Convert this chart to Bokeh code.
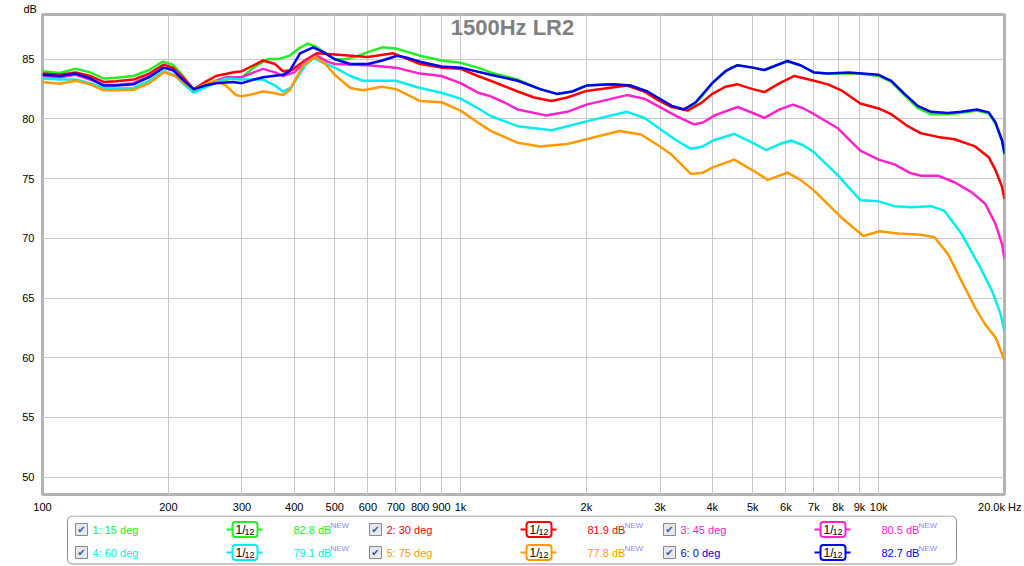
from bokeh.plotting import figure
from bokeh.models import Range1d, FixedTicker, Label, ColumnDataSource
from bokeh.layouts import column
from bokeh.embed import file_html
from bokeh.resources import INLINE
from bokeh.core.properties import value

FONT = "Liberation Sans"

# ---------------- data ----------------
names = ["1: 15 deg", "2: 30 deg", "3: 45 deg", "4: 60 deg", "5: 75 deg", "6: 0 deg"]
levels = ["82.8 dB", "81.9 dB", "80.5 dB", "79.1 dB", "77.8 dB", "82.7 dB"]
colors = ["#22ee22", "#ff0000", "#ff22cc", "#00eeee", "#ff9900", "#0000ee"]

f_green = [100, 110, 120, 130, 140, 150, 165, 180, 194, 205, 218, 230, 245, 260, 285, 300, 320, 345, 370, 390,
           410, 430, 450, 470, 500, 530, 560, 600, 650, 700, 750, 800, 900, 1000, 1100, 1180, 1370, 1550, 1700,
           1850, 2000, 2250, 2550, 2800, 2960, 3200, 3400, 3620, 3800, 4000, 4200, 4430, 4600, 5000, 5330, 5700,
           6050, 6500, 7000, 7560, 8000, 9000, 10000, 10720, 11530, 12400, 13350, 14640, 16000, 17170, 18340,
           19040, 19740, 20000]
db_green = [84.0, 83.85, 84.2, 83.9, 83.4, 83.45, 83.6, 84.1, 84.8, 84.55, 83.5, 82.3, 82.7, 83.1, 83.4, 83.5,
            84.3, 85.0, 85.05, 85.3, 85.9, 86.3, 86.1, 85.6, 85.0, 85.0, 85.2, 85.6, 86.0, 85.9, 85.6, 85.3, 84.9,
            84.7, 84.3, 83.9, 83.3, 82.5, 82.1, 82.3, 82.8, 82.9, 82.8, 82.2, 81.65, 81.1, 80.8, 81.2, 82.0, 83.0,
            83.7, 84.3, 84.5, 84.3, 84.1, 84.5, 84.8, 84.5, 83.9, 83.8, 83.8, 83.8, 83.6, 83.1, 82.0, 80.9, 80.4,
            80.4, 80.55, 80.7, 80.45, 79.6, 78.1, 77.0]

f_red = [100, 110, 120, 130, 140, 150, 165, 180, 195, 205, 218, 230, 245, 260, 285, 300, 320, 337, 360, 376, 395,
         420, 453, 500, 600, 690, 750, 800, 900, 1000, 1100, 1180, 1370, 1500, 1650, 1800, 2000, 2500, 2750, 2960,
         3200, 3490, 3750, 4000, 4300, 4600, 5000, 5330, 5800, 6290, 7010, 7560, 8140, 9040, 10050, 10720, 11740,
         12630, 13850, 15190, 17010, 18340, 19040, 19740, 20000]
db_red = [83.8, 83.7, 83.9, 83.6, 83.1, 83.15, 83.3, 83.8, 84.55, 84.3, 83.4, 82.5, 83.1, 83.6, 83.9, 84.0, 84.5,
          84.9, 84.6, 84.0, 84.1, 84.8, 85.5, 85.4, 85.2, 85.5, 85.0, 84.6, 84.3, 84.2, 83.6, 83.2, 82.3, 81.8,
          81.5, 81.8, 82.35, 82.8, 82.3, 81.6, 81.0, 80.7, 81.3, 82.1, 82.7, 82.9, 82.5, 82.25, 83.0, 83.6, 83.2,
          82.9, 82.4, 81.3, 80.85, 80.4, 79.4, 78.8, 78.5, 78.3, 77.7, 76.8, 75.7, 74.3, 73.3]

f_mag = [100, 110, 120, 130, 140, 150, 165, 180, 195, 208, 218, 230, 250, 275, 300, 320, 337, 360, 376, 400, 425,
         453, 480, 500, 600, 700, 800, 900, 1000, 1100, 1180, 1270, 1370, 1600, 1800, 2000, 2500, 2750, 2960, 3300,
         3620, 3800, 4050, 4600, 5000, 5330, 5800, 6230, 6600, 7010, 8000, 9040, 10000, 10910, 11950, 12630,
         13850, 15190, 16700, 17980, 19040, 19740, 20000]
db_mag = [83.6, 83.5, 83.7, 83.3, 82.85, 82.85, 83.0, 83.6, 84.3, 84.0, 83.2, 82.5, 83.0, 83.5, 83.5, 83.9, 84.2,
          83.9, 83.6, 83.9, 84.8, 85.3, 84.8, 84.6, 84.5, 84.3, 83.8, 83.6, 83.0, 82.2, 81.9, 81.4, 80.8, 80.3,
          80.6, 81.2, 82.0, 81.7, 81.1, 80.2, 79.55, 79.7, 80.3, 81.0, 80.5, 80.1, 80.8, 81.2, 80.9, 80.4, 79.2,
          77.35, 76.6, 76.2, 75.45, 75.25, 75.25, 74.7, 73.85, 72.9, 71.2, 69.5, 68.3]

f_cyan = [100, 110, 120, 130, 140, 150, 165, 180, 195, 208, 218, 230, 250, 275, 300, 337, 360, 376, 392, 406, 425,
          445, 470, 500, 545, 584, 650, 700, 800, 900, 1000, 1100, 1180, 1370, 1650, 2000, 2500, 2750, 2960, 3250,
          3555, 3800, 4013, 4514, 5000, 5380, 5800, 6170, 6600, 7010, 8000, 9040, 10000, 10910, 11950, 13350,
          14370, 15770, 17330, 18670, 19560, 20000]
db_cyan = [83.4, 83.3, 83.3, 83.0, 82.6, 82.55, 82.6, 83.2, 84.0, 83.6, 82.9, 82.2, 82.8, 83.4, 83.3, 83.3, 82.8,
           82.3, 82.6, 83.4, 84.5, 85.1, 84.7, 84.3, 83.6, 83.2, 83.2, 83.2, 82.6, 82.2, 81.7, 80.9, 80.25, 79.4,
           79.05, 79.8, 80.6, 80.1, 79.3, 78.3, 77.5, 77.7, 78.2, 78.75, 78.0, 77.4, 77.9, 78.2, 77.8, 77.2, 75.25,
           73.2, 73.1, 72.7, 72.6, 72.7, 72.3, 70.4, 67.85, 65.6, 63.7, 62.2]

f_orange = [100, 110, 120, 130, 140, 150, 165, 180, 195, 208, 218, 230, 245, 260, 275, 290, 300, 320, 337, 355, 376,
            390, 400, 420, 450, 475, 500, 545, 584, 650, 700, 750, 800, 900, 1000, 1100, 1180, 1370, 1550, 1800,
            2000, 2400, 2700, 3000, 3200, 3555, 3800, 4013, 4514, 5000, 5430, 6053, 6500, 7010, 8140, 9190, 10050,
            11110, 12630, 13600, 14640, 15770, 17010, 17980, 19040, 20000]
db_orange = [83.1, 82.95, 83.2, 82.9, 82.4, 82.4, 82.45, 83.0, 83.9, 83.6, 83.0, 82.5, 82.9, 83.2, 82.8, 82.0,
             81.9, 82.1, 82.3, 82.2, 82.0, 82.4, 83.1, 84.5, 85.2, 84.6, 83.7, 82.6, 82.4, 82.7, 82.5, 82.0, 81.5,
             81.4, 80.7, 79.7, 79.0, 78.0, 77.7, 77.9, 78.3, 79.0, 78.7, 77.7, 77.0, 75.4, 75.5, 75.95, 76.6, 75.7,
             74.9, 75.5, 74.9, 74.0, 71.75, 70.2, 70.6, 70.4, 70.3, 70.1, 68.7, 66.45, 64.2, 62.8, 61.7, 59.8]

f_blue = [100, 110, 120, 130, 140, 150, 165, 180, 195, 205, 218, 230, 245, 260, 285, 300, 320, 337, 376, 390, 413,
          444, 470, 500, 545, 600, 650, 705, 750, 800, 900, 1000, 1180, 1370, 1550, 1700, 1850, 2000, 2300, 2550,
          2800, 2960, 3200, 3430, 3650, 4000, 4300, 4600, 5000, 5330, 5700, 6050, 6500, 7000, 7560, 8470, 10000,
          10720, 11530, 12400, 13350, 14640, 15770, 17170, 18340, 19040, 19740, 20000]
db_blue = [83.7, 83.6, 83.8, 83.4, 82.8, 82.8, 82.9, 83.5, 84.3, 84.1, 83.2, 82.5, 82.8, 83.0, 83.1, 83.0, 83.3,
           83.5, 83.7, 84.0, 85.5, 86.0, 85.6, 85.0, 84.6, 84.6, 84.9, 85.3, 85.1, 84.8, 84.4, 84.3, 83.7, 83.2,
           82.5, 82.1, 82.3, 82.8, 82.9, 82.8, 82.3, 81.8, 81.1, 80.8, 81.4, 83.0, 84.0, 84.5, 84.3, 84.1, 84.5,
           84.86, 84.5, 83.9, 83.8, 83.9, 83.7, 83.2, 82.1, 81.1, 80.6, 80.5, 80.6, 80.8, 80.55, 79.7, 78.2, 77.1]

x_ticks = [100, 200, 300, 400, 500, 600, 700, 800, 900, 1000, 2000, 3000, 4000, 5000, 6000, 7000, 8000, 9000,
           10000, 20000]
x_labels = ["100", "200", "300", "400", "500", "600", "700", "800", "900", "1k", "2k", "3k", "4k", "5k", "6k",
            "7k", "8k", "9k", "10k", "20.0k Hz\u00a0"]
y_ticks = [50, 55, 60, 65, 70, 75, 80, 85]

series = [(f_green, db_green), (f_red, db_red), (f_mag, db_mag),
          (f_cyan, db_cyan), (f_orange, db_orange), (f_blue, db_blue)]

# ---------------- main plot ----------------
p = figure(width=1024, height=515, x_axis_type="log",
           x_range=Range1d(100, 20000), y_range=Range1d(48.55, 88.75),
           output_backend="svg", toolbar_location=None, title="dB",
           min_border_left=42, min_border_right=20, min_border_top=14, min_border_bottom=21,
           background_fill_color="white", border_fill_color="white",
           outline_line_color="#b4b4b4", outline_line_width=3)

p.title.align = "left"
p.title.offset = -19
p.title.standoff = 0
p.title.text_font = FONT
p.title.text_font_size = "11px"
p.title.text_font_style = "normal"
p.title.text_color = "#000000"

p.xaxis.ticker = FixedTicker(ticks=x_ticks, minor_ticks=[])
p.xaxis.major_label_overrides = {t: l for t, l in zip(x_ticks, x_labels)}
p.yaxis.ticker = FixedTicker(ticks=y_ticks, minor_ticks=[])
for ax in p.axis:
    ax.axis_line_color = None
    ax.major_tick_line_color = None
    ax.minor_tick_line_color = None
    ax.major_tick_out = 0
    ax.major_tick_in = 0
    ax.major_label_text_font = FONT
    ax.major_label_text_font_size = "11px"
    ax.major_label_text_color = "#000000"
p.yaxis.major_label_standoff = 8
p.xaxis.major_label_standoff = 6
p.xgrid.grid_line_color = "#c8c8c8"
p.ygrid.grid_line_color = "#c8c8c8"

for (fx, dy), c in zip(series, colors):
    p.line(fx, dy, line_color=c, line_width=2.5, line_join="round")

p.add_layout(Label(x=1331, y=87.66, text="1500Hz LR2", text_font=FONT, text_font_size="22px",
                   text_font_style="bold", text_color="#808080", text_align="center",
                   text_baseline="middle"))

# ---------------- legend strip ----------------
# its frame is aligned with the main plot frame (page x 42..1004), so data x == page x
LH = 51
L = figure(width=1024, height=LH, x_range=Range1d(42, 1004), y_range=Range1d(LH, 0),
           output_backend="svg", toolbar_location=None, min_border=0,
           min_border_left=42, min_border_right=20,
           x_axis_location=None, y_axis_location=None, outline_line_color=None,
           background_fill_color="white", border_fill_color="white")
L.grid.visible = False

L.quad(left=[67], right=[956], top=[0.5], bottom=[48.5], fill_color="white",
       line_color="#8c8c8c", line_width=1, border_radius=5)

bx = [75 + 294 * (i % 3) for i in range(6)]
cy = [14 + 23 * (i // 3) for i in range(6)]
src = ColumnDataSource(dict(
    bx=bx, cy=cy, c=colors, name=names, lev=levels,
    cbl=[b for b in bx], cbr=[b + 12 for b in bx], cbt=[y - 6 for y in cy], cbb=[y + 6 for y in cy],
    chx=[b + 6 for b in bx],
    tx=[b + 17 for b in bx],
    lx0=[b + 151 for b in bx], lx1=[b + 187 for b in bx],
    il=[b + 157 for b in bx], ir=[b + 182 for b in bx], it=[y - 7.5 for y in cy], ib=[y + 7.5 for y in cy],
    one=[b + 160 for b in bx], onesub=[b + 169 for b in bx], suby=[y + 2 for y in cy],
    vx=[b + 218 for b in bx], nx=[b + 255 for b in bx], ny=[y - 4 for y in cy],
    one_t=["1/"] * 6, sub_t=["12"] * 6, new_t=["NEW"] * 6, chk=["\u2714"] * 6,
))

L.quad(left="cbl", right="cbr", top="cbt", bottom="cbb", source=src, fill_color="#e6e8ee",
       line_color="#8a8a8a", line_width=1)
L.text(x="chx", y="cy", text="chk", source=src, text_color="#3b5a9a", text_font=value("DejaVu Sans"),
       text_font_size="10px", text_align="center", text_baseline="middle")
L.text(x="tx", y="cy", text="name", source=src, text_color="c", text_font=value(FONT),
       text_font_size="11px", text_align="left", text_baseline="middle")
L.segment(x0="lx0", y0="cy", x1="lx1", y1="cy", source=src, line_color="c", line_width=2)
L.quad(left="il", right="ir", top="it", bottom="ib", source=src, fill_color="white",
       line_color="c", line_width=2, border_radius=3)
L.text(x="one", y="cy", text="one_t", source=src, text_color="#000000", text_font=value(FONT),
       text_font_size="12px", text_align="left", text_baseline="middle")
L.text(x="onesub", y="suby", text="sub_t", source=src, text_color="#000000", text_font=value(FONT),
       text_font_size="9px", text_align="left", text_baseline="middle")
L.text(x="vx", y="cy", text="lev", source=src, text_color="c", text_font=value(FONT),
       text_font_size="11px", text_align="left", text_baseline="middle")
L.text(x="nx", y="ny", text="new_t", source=src, text_color="#8888ff", text_font=value(FONT),
       text_font_size="8px", text_align="left", text_baseline="middle")

layout = column(p, L, spacing=0)
open("out.html", "w").write(file_html(layout, INLINE))
